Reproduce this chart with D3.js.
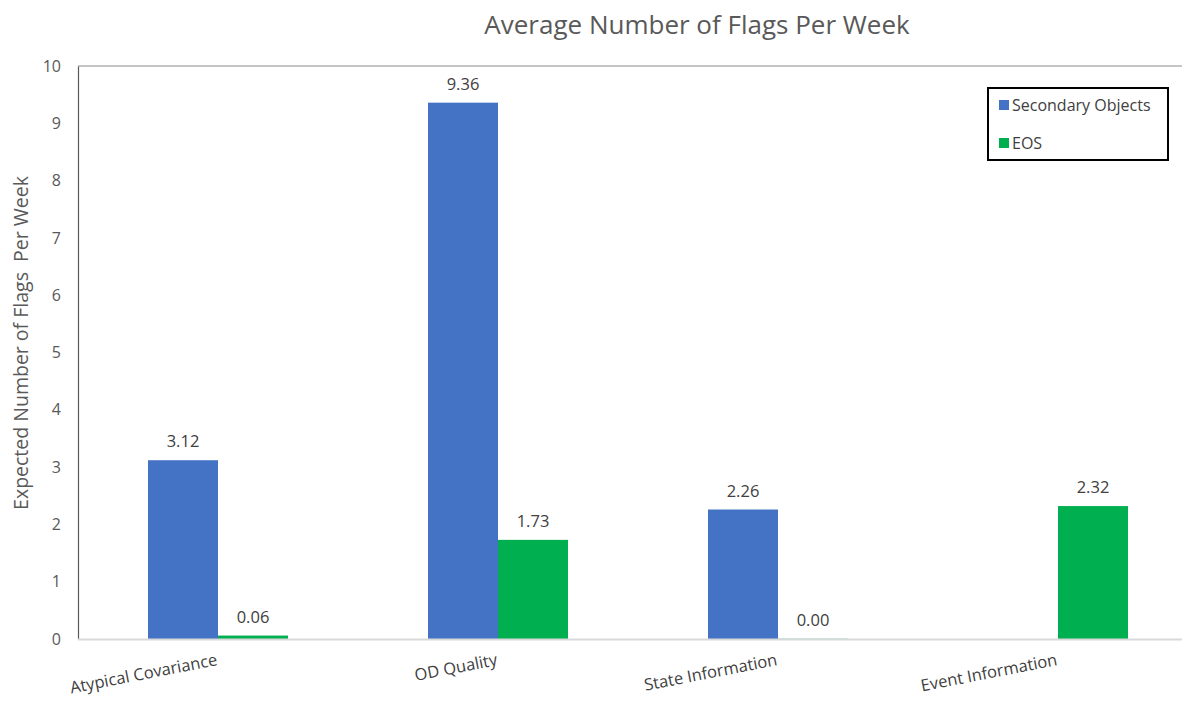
<!DOCTYPE html>
<html><head><meta charset="utf-8">
<script src="https://cdn.jsdelivr.net/npm/d3@7"></script>
<style>body{margin:0;background:#fff;} svg{display:block;font-family:"Open Sans",sans-serif;}</style>
</head><body><svg id="c" width="1182" height="701"></svg>
<script>
const categories = ["Atypical Covariance","OD Quality","State Information","Event Information"];
const seriesNames = ["Secondary Objects","EOS"];
const secondaryObjects = [3.12, 9.36, 2.26, null];
const eos = [0.06, 1.73, 0.00, 2.32];
const yTicks = [0,1,2,3,4,5,6,7,8,9,10];
const colors = ["#4472C4","#00B050"];

const svg = d3.select("#c");
const L = 78, R = 1198, T = 66, B = 639;
const x0 = d3.scaleBand().domain(categories).range([L,R]).paddingInner(0.5).paddingOuter(0.25);
const x1 = d3.scaleBand().domain(seriesNames).range([0,x0.bandwidth()]);
const y = d3.scaleLinear().domain([0,10]).range([B,T]);

// title
svg.append("text").attr("x",697).attr("y",34).attr("text-anchor","middle")
  .attr("font-size",26).attr("fill","#595959").text("Average Number of Flags Per Week");

// frame: top line
svg.append("line").attr("x1",L).attr("x2",1182).attr("y1",T).attr("y2",T).attr("stroke","#8c8c8c").attr("stroke-width",1.2);

// y axis
const yAxis = d3.axisLeft(y).tickValues(yTicks).tickSize(0).tickPadding(17);
const ya = svg.append("g").attr("transform",`translate(${L},0)`).call(yAxis);
ya.select(".domain").attr("stroke","#595959").attr("stroke-width",1.2);
ya.selectAll("text").attr("font-size",16).attr("fill","#595959").attr("font-family","'Open Sans',sans-serif");

svg.append("text").attr("transform","translate(28,343) rotate(-90)").attr("text-anchor","middle")
  .attr("font-size",19.5).attr("fill","#595959").style("white-space","pre")
  .text("Expected Number of Flags  Per Week");

// bars
const data = categories.map((c,i)=>({cat:c, vals:[secondaryObjects[i], eos[i]]}));
const g = svg.append("g");
data.forEach(d=>{
  d.vals.forEach((v,j)=>{
    if (v===null) return;
    const xx = x0(d.cat)+x1(seriesNames[j]);
    const h = Math.max(B - y(v), 0);
    g.append("rect").attr("x",xx).attr("y",y(v) - (v===0?1:0)).attr("width",x1.bandwidth())
      .attr("height",v===0?1:h).attr("fill",colors[j]).attr("opacity",v===0?0.25:1);
    g.append("text").attr("x",xx+x1.bandwidth()/2).attr("y",y(v)-13).attr("text-anchor","middle")
      .attr("font-size",16.5).attr("fill","#404040").text(v.toFixed(2));
  });
});

// x axis (bottom)
svg.append("line").attr("x1",L).attr("x2",1182).attr("y1",B+0.5).attr("y2",B+0.5).attr("stroke","#d9d9d9").attr("stroke-width",2);
const xAxis = d3.axisBottom(x0).tickSize(0).tickPadding(0);
const xa = svg.append("g").attr("transform",`translate(0,${B})`).call(xAxis);
xa.select(".domain").remove();
xa.selectAll("text").attr("font-size",16.5).attr("fill","#404040").attr("font-family","'Open Sans',sans-serif")
  .attr("text-anchor","end").attr("dy",null).attr("y",0)
  .attr("transform","translate(0,26) rotate(-11)");

// legend
const lg = svg.append("g");
lg.append("rect").attr("x",988).attr("y",88).attr("width",180).attr("height",72).attr("fill","#fff").attr("stroke","#000").attr("stroke-width",2);
seriesNames.forEach((s,i)=>{
  const yy = 105 + i*38;
  lg.append("rect").attr("x",999).attr("y",yy-5).attr("width",10).attr("height",10).attr("fill",colors[i]);
  lg.append("text").attr("x",1012).attr("y",yy+6).attr("font-size",16).attr("fill","#404040").text(s);
});
</script></body></html>
